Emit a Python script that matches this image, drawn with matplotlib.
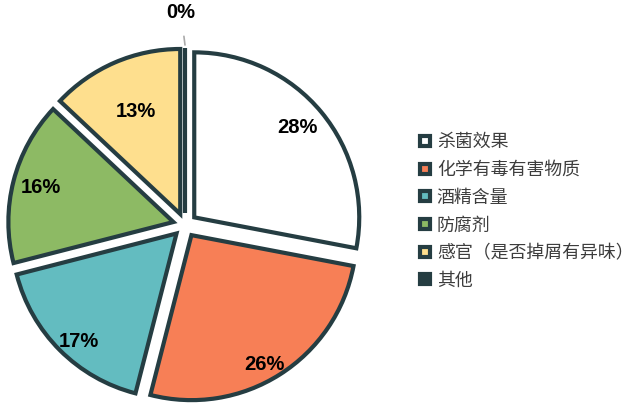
import numpy as np
import matplotlib
matplotlib.use("Agg")
import matplotlib.pyplot as plt
from matplotlib.lines import Line2D

categories = ["杀菌效果", "化学有毒有害物质", "酒精含量", "防腐剂", "感官（是否掉屑有异味）", "其他"]
values = [28, 26, 17, 16, 13, 0]
colors = ["#ffffff", "#f77f56", "#63bcc0", "#8dba64", "#fedf8e", "#253d42"]
edge = "#253d42"

# style: radial factor and angular nudge (deg) for each percentage label
label_r = [0.83, 0.90, 0.88, 0.83, 0.68]
label_da = [1.5, -3, 3, 0, 0]

W, H = 633, 413
fig = plt.figure(figsize=(W / 100, H / 100), dpi=100)
ax = fig.add_axes([0, 0, 1, 1])

cx, cy, R = 185, H - 225, 165
wedges, _ = ax.pie(values, colors=colors, startangle=90, counterclock=False,
                   explode=[12] * len(values), center=(cx, cy), radius=R,
                   wedgeprops=dict(edgecolor=edge, linewidth=3, joinstyle="miter"),
                   frame=True)
ax.set_xlim(0, W)
ax.set_ylim(0, H)
ax.set_aspect("equal")
ax.axis("off")

for i, w in enumerate(wedges):
    c = w.center
    if values[i] > 0:
        ang = np.deg2rad((w.theta1 + w.theta2) / 2 + label_da[i])
        ax.text(c[0] + label_r[i] * w.r * np.cos(ang), c[1] + label_r[i] * w.r * np.sin(ang),
                f"{values[i]}%", ha="center", va="center", fontsize=14.5, fontweight="bold",
                family="Liberation Sans", color="black")
    else:
        ang = np.deg2rad((w.theta1 + w.theta2) / 2)
        px, py = c[0] + w.r * np.cos(ang), c[1] + w.r * np.sin(ang) + 3
        ax.annotate(f"{values[i]}%", xy=(px, py), xytext=(px - 4, py + 32),
                    ha="center", va="center", fontsize=14.5, fontweight="bold",
                    family="Liberation Sans", color="black",
                    arrowprops=dict(arrowstyle="-", color="#aaaaaa", lw=1.2,
                                    shrinkA=8, shrinkB=0))

handles = [Line2D([0], [0], marker="s", linestyle="", markersize=7.2,
                  markerfacecolor=col, markeredgecolor=edge, markeredgewidth=3)
           for col in colors]
leg = fig.legend(handles, categories, loc="center left",
                 bbox_to_anchor=(418 / W, 1 - 211.5 / H), frameon=False,
                 borderpad=0, borderaxespad=0, handlelength=0.75, handletextpad=0.3,
                 labelspacing=0.54, prop=dict(family=["Noto Sans CJK SC", "DejaVu Sans"], size=12.9))
for t in leg.get_texts():
    t.set_color("#3d3d3d")

fig.savefig("out.png", dpi=100)
